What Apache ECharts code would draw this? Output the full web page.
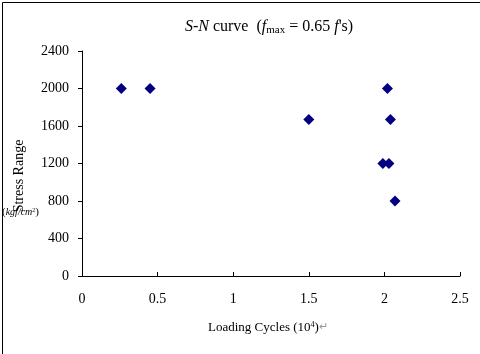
<!DOCTYPE html>
<html>
<head>
<meta charset="utf-8">
<script src="https://cdn.jsdelivr.net/npm/echarts@6/dist/echarts.min.js"></script>
<style>
  html, body { margin: 0; padding: 0; background: #fff; }
  #main { width: 480px; height: 354px; }
</style>
</head>
<body>
<div id="main"></div>
<script>
// loading cycles (10^4) and stress range (kgf/cm2)
var cycles = [0.26, 0.45, 1.5, 2.02, 2.04, 1.99, 2.03, 2.07];
var stress = [2000, 2000, 1670, 2000, 1670, 1200, 1200, 800];
var xTicks = [0, 0.5, 1, 1.5, 2, 2.5];
var yTicks = [0, 400, 800, 1200, 1600, 2000, 2400];

var serif = 'Liberation Serif';
var points = cycles.map(function (c, i) { return [c, stress[i]]; });

var chart = echarts.init(document.getElementById('main'));
chart.setOption({
  animation: false,
  backgroundColor: '#fff',
  grid: { left: 82, right: 20, top: 51, bottom: 78 },
  title: {
    left: 264,
    top: 13,
    textAlign: 'center',
    text: '{i|S-N}{n| curve  (}{i|f}{s|max}{n| = 0.65 }{i|f}{n|\'s)}',
    textStyle: {
      fontWeight: 'normal',
      rich: {
        i: { fontFamily: serif, fontStyle: 'italic', fontWeight: 'normal', fontSize: 16, color: '#000' },
        n: { fontFamily: serif, fontWeight: 'normal', fontSize: 16, color: '#000' },
        s: { fontFamily: serif, fontWeight: 'normal', fontSize: 11, color: '#000', verticalAlign: 'bottom', padding: [7, 0, 0, 0] }
      }
    }
  },
  xAxis: {
    type: 'value',
    min: 0, max: 2.5, interval: 0.5,
    axisLine: { lineStyle: { color: '#000' } },
    axisTick: { inside: true, length: 4, lineStyle: { color: '#000' } },
    splitLine: { show: false },
    axisLabel: {
      color: '#000', fontFamily: serif, fontSize: 14, margin: 16,
      formatter: function (v) { return xTicks.indexOf(v) >= 0 ? String(v) : ''; }
    }
  },
  yAxis: {
    type: 'value',
    min: 0, max: 2400, interval: 400,
    axisLine: { show: true, lineStyle: { color: '#000' } },
    axisTick: { show: true, length: 4, lineStyle: { color: '#000' } },
    splitLine: { show: false },
    axisLabel: {
      color: '#000', fontFamily: serif, fontSize: 14, margin: 13,
      formatter: function (v) { return yTicks.indexOf(v) >= 0 ? String(v) : ''; }
    }
  },
  series: [{
    type: 'scatter',
    data: points,
    symbol: 'diamond',
    symbolSize: [11, 11],
    itemStyle: { color: '#000080', opacity: 1 }
  }],
  graphic: [
    {
      type: 'rect', left: 0, top: 0,
      shape: { width: 479, height: 353 },
      style: { fill: 'none', stroke: '#000', lineWidth: 1 }
    },
    {
      type: 'text', x: 19, y: 176, rotation: Math.PI / 2,
      style: {
        text: 'Stress Range', fontFamily: serif, fontSize: 14, fill: '#000',
        align: 'center', verticalAlign: 'middle'
      }
    },
    {
      type: 'text', x: 2, y: 207,
      style: {
        text: '{p|(}{i|kgf/cm}{s|2}{p|)}',
        rich: {
          p: { fontFamily: serif, fontSize: 11, fill: '#000' },
          i: { fontFamily: serif, fontStyle: 'italic', fontSize: 10, fill: '#000' },
          s: { fontFamily: serif, fontSize: 6, fill: '#000', verticalAlign: 'top' }
        }
      }
    },
    {
      type: 'text', x: 208, y: 321,
      style: {
        text: '{n|Loading Cycles (10}{s|4}{n|)}{r|\u21b5}',
        rich: {
          n: { fontFamily: serif, fontSize: 13, fill: '#000' },
          s: { fontFamily: serif, fontSize: 8, fill: '#000', verticalAlign: 'top' },
          r: { fontFamily: serif, fontSize: 11, fill: '#999' }
        }
      }
    }
  ]
});
</script>
</body>
</html>
